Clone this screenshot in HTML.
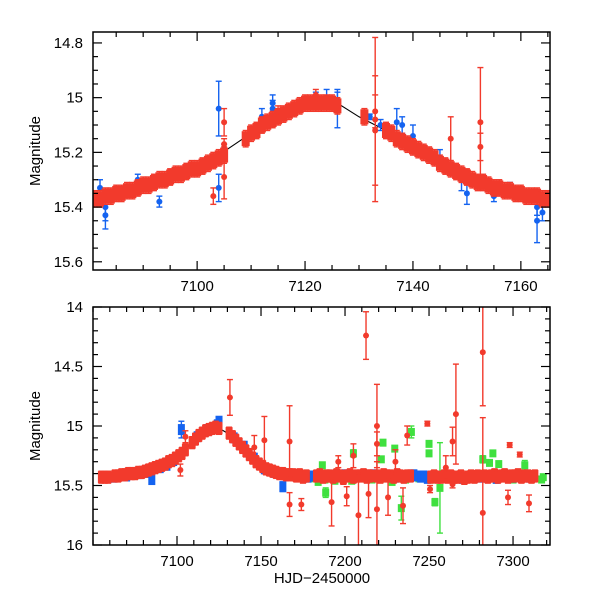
<!DOCTYPE html>
<html><head><meta charset="utf-8">
<style>
html,body{margin:0;padding:0;background:#fff;}
svg{display:block;font-family:"Liberation Sans",Arial,sans-serif;}
</style></head>
<body>
<svg id="chart" width="600" height="600" viewBox="0 0 600 600" xmlns="http://www.w3.org/2000/svg">
<defs>
<clipPath id="clipTop"><rect x="93" y="32" width="457" height="238"/></clipPath>
<clipPath id="clipBot"><rect x="93" y="307" width="457" height="238"/></clipPath>
</defs>
<g id="top"></g>
<g id="bot"></g>
<text x="0" y="0" transform="translate(40,151) rotate(-90)" text-anchor="middle" font-size="15">Magnitude</text>
<text x="0" y="0" transform="translate(40,426) rotate(-90)" text-anchor="middle" font-size="15">Magnitude</text>
<text x="322" y="583" text-anchor="middle" font-size="15">HJD−2450000</text>
</svg>
<script>
// ---------- TOP PANEL DATA ----------
const topModelT=[7081,7085,7090,7095,7100,7104,7107,7110,7115,7120,7123,7126,7130,7135,7140,7145,7150,7155,7160,7165];
const topModelM=[15.37,15.35,15.32,15.29,15.26,15.21,15.17,15.13,15.07,15.02,15.01,15.02,15.07,15.12,15.18,15.25,15.30,15.33,15.36,15.37];
const topRedT=[7081,7082,7083,7084,7085,7086,7087,7088,7089,7090,7091,7092,7093,7094,7095,7096,7097,7098,7099,7100,7101,7102,7103,7104,7105,
7109,7110,7111,7112,7113,7114,7115,7116,7117,7118,7119,7120,7121,7122,7123,7124,7125,7126,
7131,7135,7136,7137,7138,7139,7140,7141,7142,7143,7144,
7145,7146,7147,7148,7149,7150,7151,7152,7153,7154,7155,7156,7157,7158,7159,7160,7161,7162,7163,7164,7165];
const topRedM=[15.37,15.37,15.36,15.36,15.35,15.35,15.34,15.34,15.33,15.32,15.32,15.31,15.30,15.30,15.29,15.28,15.28,15.27,15.26,15.26,15.25,15.24,15.23,15.22,15.21,
15.15,15.13,15.12,15.10,15.09,15.08,15.07,15.06,15.05,15.04,15.03,15.02,15.02,15.02,15.02,15.02,15.02,15.03,
15.07,15.12,15.13,15.15,15.16,15.17,15.18,15.19,15.20,15.21,15.22,
15.24,15.25,15.26,15.27,15.28,15.29,15.30,15.31,15.31,15.32,15.33,15.33,15.34,15.34,15.35,15.35,15.36,15.36,15.36,15.37,15.37];
const topRedOutT=[7103,7105,7105,7105,7133,7133,7133,7147,7152.5,7152.5,7115,7122];
const topRedOutM=[15.36,15.09,15.29,15.17,15.08,15.12,15.05,15.15,15.09,15.18,15.05,14.99];
const topRedOutE=[0.03,0.05,0.08,0.02,0.30,0.20,0.06,0.08,0.20,0.05,0.02,0.02];
const topBlueT=[7082,7083,7083,7089,7093,7104,7104,7105,7112,7114,7114,7122,7124,7126,7126,7132,7134,7137,7138,7140,7145,7149,7150,7155,7163,7163,7164,7158,7160,7086,7096];
const topBlueM=[15.33,15.40,15.43,15.30,15.38,15.04,15.33,15.19,15.07,15.02,15.04,15.00,15.00,15.01,15.04,15.07,15.10,15.09,15.10,15.14,15.22,15.30,15.35,15.36,15.45,15.40,15.42,15.33,15.35,15.35,15.28];
const topBlueE=[0.03,0.05,0.05,0.02,0.02,0.10,0.05,0.02,0.03,0.03,0.03,0.02,0.03,0.03,0.07,0.01,0.02,0.05,0.03,0.04,0.03,0.04,0.04,0.02,0.08,0.03,0.03,0.02,0.02,0.02,0.02];
const topXTicks=[7100,7120,7140,7160];
const topYTicks=[14.8,15,15.2,15.4,15.6];
const topYLabels=["14.8","15","15.2","15.4","15.6"];

// ---------- BOTTOM PANEL DATA ----------
const botModelT=[7055,7070,7080,7090,7100,7105,7110,7115,7120,7124,7130,7140,7150,7160,7170,7200,7318];
const botModelM=[15.43,15.41,15.39,15.34,15.26,15.20,15.12,15.06,15.02,15.01,15.06,15.18,15.32,15.39,15.41,15.42,15.42];
const botRedT=[7055,7057,7059,7063,7065,7067,7069,7071,7073,7075,7077,7079,7081,7083,7085,7087,7089,7091,7093,7095,7097,7099,7101,7103,7105,
7109,7111,7113,7115,7117,7119,7121,7123,7125,7131,7133,7135,7137,7139,7141,7143,7145,7147,7149,7151,7153,7155,7157,7159,7161,7163,7165,7167,7169,
7171,7173,7175,7177,7183,7185,7187,7189,7191,7193,7195,7197,7199,7201,7203,7205,7207,7209,7211,7213,7215,7219,7221,7223,7225,7227,7229,7231,7233,7235,7237,7239,
7251,7253,7255,7257,7259,7261,7263,7265,7267,7269,7271,7273,7275,7277,7279,7283,7285,7287,7289,7291,7293,7295,7297,7299,7301,7303,7305,7307,7309,7311,7313];
const botRedM=[15.43,15.43,15.43,15.42,15.42,15.41,15.41,15.40,15.40,15.40,15.39,15.39,15.38,15.37,15.36,15.35,15.34,15.33,15.32,15.30,15.29,15.27,15.25,15.23,15.20,
15.14,15.11,15.08,15.06,15.04,15.03,15.02,15.01,15.02,15.06,15.09,15.12,15.15,15.18,15.21,15.24,15.27,15.30,15.32,15.34,15.36,15.37,15.38,15.39,15.40,15.40,15.41,15.41,15.41,
15.42,15.41,15.43,15.42,15.42,15.41,15.43,15.42,15.42,15.43,15.41,15.42,15.44,15.42,15.41,15.43,15.42,15.42,15.41,15.43,15.42,15.42,15.43,15.41,15.42,15.42,15.43,15.41,15.42,15.43,15.42,15.42,
15.43,15.42,15.43,15.43,15.42,15.43,15.42,15.43,15.43,15.42,15.44,15.43,15.42,15.43,15.42,15.42,15.43,15.42,15.41,15.43,15.42,15.41,15.43,15.42,15.42,15.41,15.43,15.42,15.42,15.43,15.42];
const botRedOutT=[7212.5,7282,7282,7266,7219,7219,7249,7237,7264,7298,7304,7131.5,7146,7152,7167,7167,7192,7201,7208,7214,7225.6,7234.5,7250.6,7264,7297,7309.5,7174,7102,7105,7196,7230,7260,7205,7219];
const botRedOutM=[14.24,14.38,15.73,14.90,15.00,15.70,14.98,15.08,15.13,15.16,15.24,14.76,15.18,15.12,15.13,15.66,15.64,15.59,15.75,15.57,15.60,15.67,15.53,15.49,15.60,15.65,15.66,15.37,15.09,15.30,15.30,15.35,15.25,15.15];
const botRedOutE=[0.20,0.45,0.80,0.42,0.35,0.40,0.02,0.08,0.12,0.02,0.02,0.15,0.10,0.20,0.30,0.10,0.20,0.08,0.35,0.20,0.15,0.15,0.03,0.03,0.06,0.07,0.05,0.05,0.05,0.05,0.10,0.10,0.10,0.10];
const botBlueT=[7062,7070,7078,7082,7090,7094,7098,7112,7118,7124,7134,7140,7146,7152,7158,7164,7170,7178,7181,7186,7195,7200,7210,7217,7230,7241,7243,7245,7247,7249,7260,7270,7280,7284,7290,7300,7310,7085,7102.6,7125,7163];
const botBlueM=[15.43,15.42,15.40,15.39,15.35,15.33,15.29,15.09,15.03,14.99,15.10,15.17,15.27,15.36,15.39,15.41,15.42,15.43,15.42,15.42,15.41,15.41,15.42,15.41,15.43,15.41,15.42,15.43,15.42,15.44,15.43,15.44,15.43,15.43,15.44,15.43,15.43,15.45,15.03,14.96,15.51];
const botBlueE=[0.01,0.01,0.02,0.02,0.02,0.02,0.02,0.02,0.02,0.02,0.02,0.02,0.02,0.02,0.02,0.02,0.02,0.02,0.02,0.02,0.02,0.02,0.02,0.02,0.02,0.02,0.02,0.02,0.02,0.02,0.02,0.02,0.02,0.02,0.02,0.02,0.02,0.04,0.07,0.03,0.04];
const botGreenT=[7180,7184,7188,7194,7198,7204,7212,7216,7222,7228,7236,7244,7252,7262,7270,7280,7290,7300,7310,7318,
7205,7222.6,7229.6,7239.5,7250,7250,7256.5,7253.5,7233.5,7188.5,7288,7291.5,7282,7286,7307,7317,7186.5,7221.6];
const botGreenM=[15.44,15.47,15.45,15.46,15.43,15.46,15.44,15.45,15.44,15.47,15.45,15.44,15.45,15.44,15.45,15.44,15.45,15.45,15.44,15.43,
15.23,15.14,15.19,15.05,15.15,15.23,15.52,15.64,15.69,15.56,15.23,15.32,15.28,15.31,15.33,15.45,15.33,15.28];
const botGreenE=[0.02,0.02,0.02,0.02,0.02,0.02,0.02,0.02,0.02,0.02,0.02,0.02,0.02,0.02,0.02,0.02,0.02,0.02,0.02,0.02,
0.03,0.02,0.02,0.05,0.02,0.02,0.38,0.03,0.10,0.04,0.02,0.02,0.03,0.02,0.04,0.02,0.02,0.02];
const botXTicks=[7100,7150,7200,7250,7300];
const botYTicks=[14,14.5,15,15.5,16];
const botYLabels=["14","14.5","15","15.5","16"];

const NS="http://www.w3.org/2000/svg";
const RED="#f23a2c", BLUE="#1463f0", GREEN="#3fe03f";
function mk(tag,attrs,parent){const e=document.createElementNS(NS,tag);for(const k in attrs)e.setAttribute(k,attrs[k]);parent.appendChild(e);return e;}

function drawPanel(g,cfg){
  const L=93,R=550,T=cfg.top,B=cfg.top+238;
  const xs=t=>L+(t-cfg.x0)/(cfg.x1-cfg.x0)*(R-L);
  const ys=m=>T+(m-cfg.y0)/(cfg.y1-cfg.y0)*(B-T);
  const plot=mk('g',{'clip-path':'url(#'+cfg.clip+')'},g);
  
  
  function series(name,Ts,Ms,Es,color,shape,defE,mh){
    const sg=mk('g',{},plot);
    
    
    for(let i=0;i<Ts.length;i++){
      const x=xs(Ts[i]),y=ys(Ms[i]);const e=Es?Es[i]:defE;
      const y1=ys(Ms[i]-e),y2=ys(Ms[i]+e);
      mk('line',{x1:x,x2:x,y1:y1,y2:y2,stroke:color,'stroke-width':1.4},sg);
      mk('line',{x1:x-3,x2:x+3,y1:y1,y2:y1,stroke:color,'stroke-width':1.4},sg);
      mk('line',{x1:x-3,x2:x+3,y1:y2,y2:y2,stroke:color,'stroke-width':1.4},sg);
      let p;
      if(shape==='rect'){p=mk('rect',{x:x-cfg.mw/2,y:y-mh/2,width:cfg.mw,height:mh,fill:color},sg);}
      else{p=mk('circle',{cx:x,cy:y,r:3,fill:color},sg);}
      
      
    }
  }
  let d='';cfg.modelT.forEach((t,i)=>{d+=(i?'L':'M')+xs(t).toFixed(1)+' '+ys(cfg.modelM[i]).toFixed(1);});
  const ml=mk('path',{d:d,fill:'none',stroke:'#000','stroke-width':1.1},plot);
  
  
  cfg.series.forEach(s=>series(s[0],s[1],s[2],s[3],s[4],s[5],s[6],s[7]));
  const fr=mk('rect',{x:L,y:T,width:R-L,height:B-T,fill:'none',stroke:'#000','stroke-width':1.5},g);
  
  
  const ax=mk('g',{stroke:'#000','stroke-width':1.2},g);
  
  
  for(let t=Math.ceil(cfg.x0/cfg.xMinor)*cfg.xMinor;t<=cfg.x1;t+=cfg.xMinor){
    const x=xs(t);const major=cfg.xTicks.includes(t);const len=major?9:5;
    mk('line',{x1:x,x2:x,y1:B,y2:B-len},ax);mk('line',{x1:x,x2:x,y1:T,y2:T+len},ax);
  }
  for(let k=0;;k++){const m=Math.round((cfg.y0c+k*cfg.yMinor)*1000)/1000;if(m>cfg.y1)break;if(m<cfg.y0)continue;
    const y=ys(m);const major=cfg.yTicks.some(v=>Math.abs(v-m)<1e-6);const len=major?9:5;
    mk('line',{x1:L,x2:L+len,y1:y,y2:y},ax);mk('line',{x1:R,x2:R-len,y1:y,y2:y},ax);
  }
  cfg.xTicks.forEach(t=>{const tx=mk('text',{x:xs(t),y:B+21,'text-anchor':'middle','font-size':15},g);tx.textContent=String(t);
    
    });
  cfg.yTicks.forEach((m,i)=>{const tx=mk('text',{x:83,y:ys(m)+5,'text-anchor':'end','font-size':15},g);tx.textContent=cfg.yLabels[i];
    
    });
}

drawPanel(document.getElementById('top'),{top:32,clip:'clipTop',x0:7080.7,x1:7165.4,y0:14.76,y1:15.63,y0c:14.75,
  xMinor:5,yMinor:0.05,xTicks:topXTicks,yTicks:topYTicks,yLabels:topYLabels,mw:8,
  modelT:topModelT,modelM:topModelM,
  series:[['blue-series',topBlueT,topBlueM,topBlueE,BLUE,'circle',0,0],
          ['red-series',topRedT,topRedM,null,RED,'rect',0.03,15],
          ['red-outliers',topRedOutT,topRedOutM,topRedOutE,RED,'circle',0,0]]});
drawPanel(document.getElementById('bot'),{top:307,clip:'clipBot',x0:7050,x1:7322,y0:14,y1:16,y0c:14,
  xMinor:10,yMinor:0.1,xTicks:botXTicks,yTicks:botYTicks,yLabels:botYLabels,mw:7,
  modelT:botModelT,modelM:botModelM,
  series:[['green-series',botGreenT,botGreenM,botGreenE,GREEN,'rect',0,8],
          ['blue-series',botBlueT,botBlueM,botBlueE,BLUE,'rect',0,11],
          ['red-series',botRedT,botRedM,null,RED,'rect',0.05,12],
          ['red-outliers',botRedOutT,botRedOutM,botRedOutE,RED,'circle',0,0]]});
</script>
</body></html>
